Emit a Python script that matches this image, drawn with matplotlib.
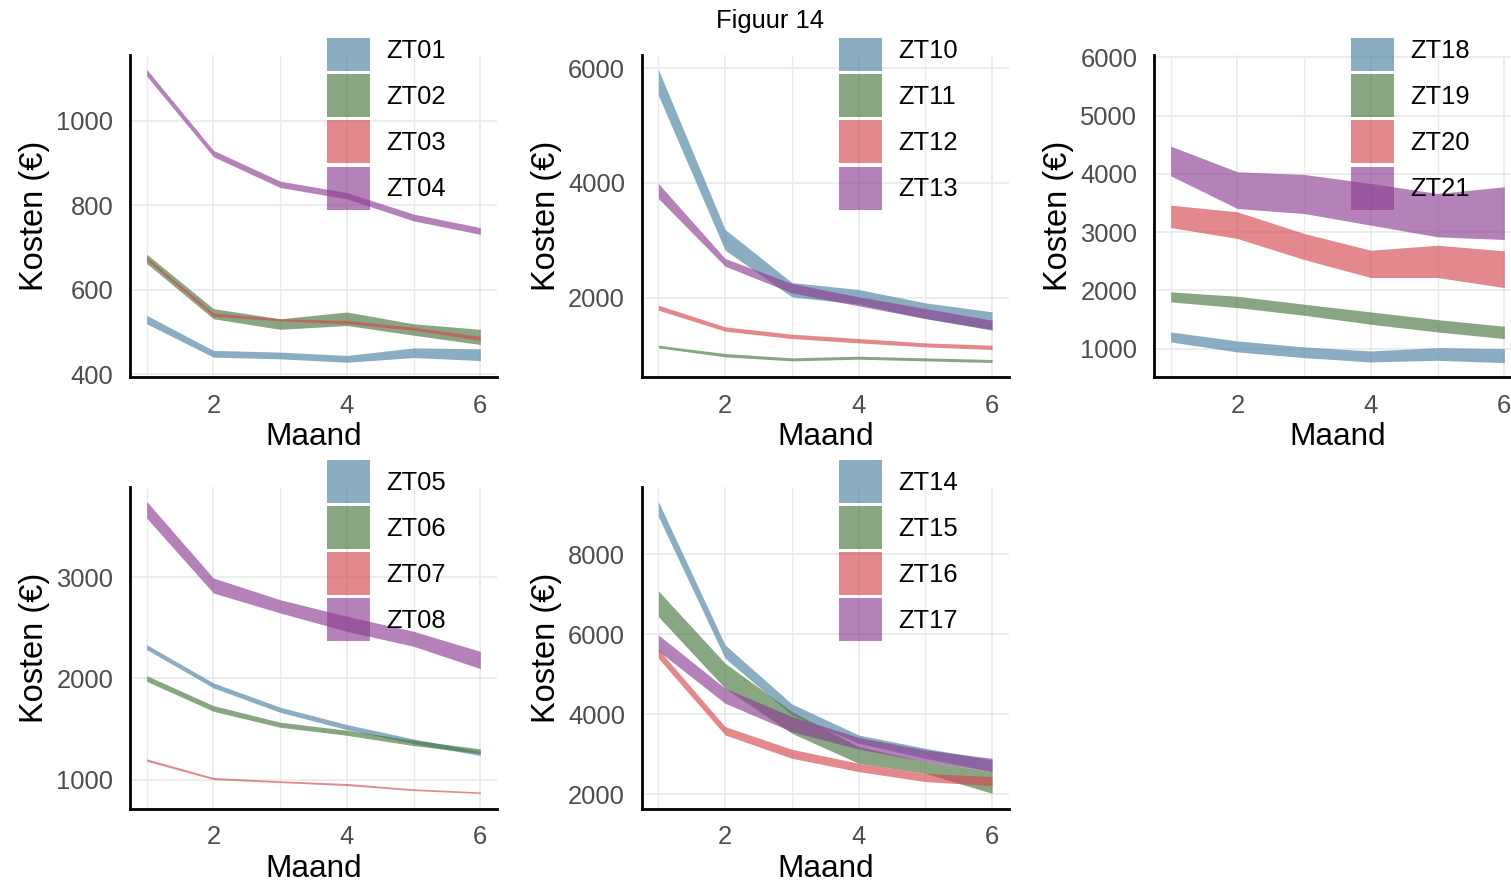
import matplotlib
matplotlib.use("Agg")
import matplotlib.pyplot as plt
from matplotlib.patches import Patch
from matplotlib.transforms import Bbox, TransformedBbox

plt.rcParams['font.family'] = ['Liberation Sans', 'DejaVu Sans']

months = [1, 2, 3, 4, 5, 6]

# Panel 1
zt01_lo = [519, 440, 436, 428, 439, 432]
zt01_hi = [539, 456, 452, 444, 462, 460]
zt02_lo = [662, 531, 506, 515, 492, 470]
zt02_hi = [684, 555, 531, 547, 519, 506]
zt03_lo = [670, 537, 526, 519, 504, 480]
zt03_hi = [677, 545, 531, 527, 511, 489]
zt04_lo = [1106, 915, 842, 815, 763, 731]
zt04_hi = [1122, 930, 857, 830, 779, 747]

# Panel 2
zt10_lo = [5530, 2827, 2012, 1884, 1633, 1430]
zt10_hi = [5982, 3188, 2262, 2140, 1907, 1750]
zt11_lo = [1121, 964, 894, 923, 894, 865]
zt11_hi = [1167, 1022, 946, 975, 946, 917]
zt12_lo = [1779, 1412, 1284, 1208, 1138, 1092]
zt12_hi = [1866, 1488, 1360, 1284, 1208, 1167]
zt13_lo = [3729, 2547, 2081, 1854, 1633, 1441]
zt13_hi = [3991, 2681, 2245, 2012, 1808, 1604]

# Panel 3
zt18_lo = [1115, 943, 845, 771, 800, 759]
zt18_hi = [1286, 1132, 1029, 960, 1017, 1000]
zt19_lo = [1802, 1704, 1573, 1418, 1286, 1172]
zt19_hi = [1974, 1899, 1762, 1630, 1498, 1384]
zt20_lo = [3079, 2890, 2529, 2220, 2220, 2048]
zt20_hi = [3463, 3348, 2976, 2689, 2775, 2678]
zt21_lo = [3967, 3405, 3319, 3119, 2919, 2873]
zt21_hi = [4476, 4035, 3990, 3835, 3663, 3778]

# Panel 4
zt05_lo = [2283, 1905, 1664, 1493, 1355, 1237]
zt05_hi = [2332, 1954, 1714, 1543, 1401, 1280]
zt06_lo = [1970, 1674, 1516, 1437, 1335, 1257]
zt06_hi = [2026, 1730, 1566, 1487, 1388, 1303]
zt07_lo = [1181, 1000, 970, 941, 891, 862]
zt07_hi = [1204, 1020, 987, 961, 908, 878]
zt08_lo = [3582, 2842, 2645, 2464, 2316, 2095]
zt08_hi = [3746, 2990, 2776, 2612, 2464, 2266]

# Panel 5
zt14_lo = [8941, 5400, 3983, 3275, 2900, 2567]
zt14_hi = [9317, 5733, 4258, 3483, 3150, 2858]
zt15_lo = [6441, 4650, 3525, 2775, 2525, 2025]
zt15_hi = [7083, 5275, 4067, 3192, 2817, 2567]
zt16_lo = [5400, 3483, 2900, 2567, 2317, 2217]
zt16_hi = [5625, 3692, 3125, 2775, 2525, 2442]
zt17_lo = [5583, 4275, 3567, 3133, 2817, 2567]
zt17_hi = [5983, 4650, 3942, 3425, 3108, 2900]

xticks = [2, 4, 6]
colors = ['#4B82A1', '#48763F', '#D44950', '#8C3F92']
ALPHA = 0.65

panels = [
    # (left px, top px, labels, series, ylim, yticks)
    (130, 55, ['ZT01', 'ZT02', 'ZT03', 'ZT04'],
     [(zt01_lo, zt01_hi), (zt02_lo, zt02_hi), (zt03_lo, zt03_hi), (zt04_lo, zt04_hi)],
     (393, 1156), [400, 600, 800, 1000]),
    (641.7, 55, ['ZT10', 'ZT11', 'ZT12', 'ZT13'],
     [(zt10_lo, zt10_hi), (zt11_lo, zt11_hi), (zt12_lo, zt12_hi), (zt13_lo, zt13_hi)],
     (612, 6235), [2000, 4000, 6000]),
    (1154, 55, ['ZT18', 'ZT19', 'ZT20', 'ZT21'],
     [(zt18_lo, zt18_hi), (zt19_lo, zt19_hi), (zt20_lo, zt20_hi), (zt21_lo, zt21_hi)],
     (513, 6040), [1000, 2000, 3000, 4000, 5000, 6000]),
    (130, 486.7, ['ZT05', 'ZT06', 'ZT07', 'ZT08'],
     [(zt05_lo, zt05_hi), (zt06_lo, zt06_hi), (zt07_lo, zt07_hi), (zt08_lo, zt08_hi)],
     (712, 3892), [1000, 2000, 3000]),
    (641.7, 486.7, ['ZT14', 'ZT15', 'ZT16', 'ZT17'],
     [(zt14_lo, zt14_hi), (zt15_lo, zt15_hi), (zt16_lo, zt16_hi), (zt17_lo, zt17_hi)],
     (1640, 9688), [2000, 4000, 6000, 8000]),
]

W, H = 1511, 885
fig = plt.figure(figsize=(W / 100, H / 100), dpi=100)
AW, AH = 367, 322

FS = 18.4
for left, top, labels, series, ylim, yticks in panels:
    ax = fig.add_axes([left / W, 1 - (top + AH) / H, AW / W, AH / H])
    for (lo, hi), c in zip(series, colors):
        ax.fill_between(months, lo, hi, color=c, alpha=ALPHA, linewidth=0)
    ax.set_xlim(0.75, 6.25)
    ax.set_ylim(*ylim)
    ax.set_xticks(xticks)
    ax.set_xticks([1, 3, 5], minor=True)
    ax.set_yticks(yticks)
    ax.grid(True, which='major', color='#EBEBEB', linewidth=1.3)
    ax.grid(True, which='minor', axis='x', color='#EBEBEB', linewidth=1.0)
    ax.set_axisbelow(True)
    for s in ['top', 'right']:
        ax.spines[s].set_visible(False)
    for s in ['left', 'bottom']:
        ax.spines[s].set_linewidth(2.0)
        ax.spines[s].set_color('black')
    ax.tick_params(which='both', length=0, pad=12, labelsize=FS, labelcolor='#4D4D4D')
    ax.set_xlabel('Maand', fontsize=22.7, labelpad=3)
    ax.set_ylabel('Kosten (€)', fontsize=23.5, labelpad=4.5)
    handles = [Patch(facecolor=c, alpha=ALPHA, edgecolor='none') for c in colors]
    leg = ax.legend(handles, labels, loc='upper left', bbox_to_anchor=(197 / AW, 1 + 26.7 / AH),
                    frameon=False, fontsize=FS, borderpad=0, borderaxespad=0,
                    handlelength=1.686, handleheight=2.215, labelspacing=0.118,
                    handletextpad=0.63)
    leg.set_zorder(10)
    if top < 100:
        cb = TransformedBbox(Bbox([[0, 0], [1, 1 - 38 / H]]), fig.transFigure)
        for h in leg.legend_handles:
            h.set_clip_box(cb)
            h.set_clip_on(True)

fig.text(769.5 / W, 1 - 28.3 / H, 'Figuur 14', ha='center', va='baseline', fontsize=FS)

fig.savefig('out.png', dpi=100)
